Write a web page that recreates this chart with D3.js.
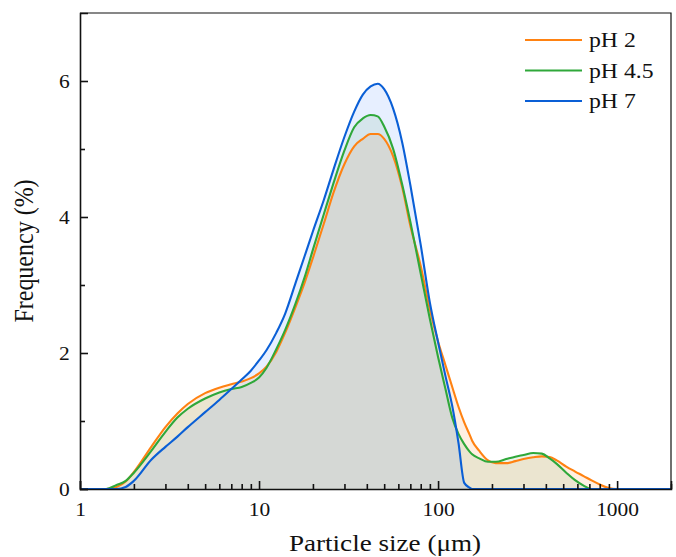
<!DOCTYPE html>
<html><head><meta charset="utf-8">
<script src="https://cdn.jsdelivr.net/npm/d3@7"></script>
<style>
body{margin:0;background:#fff}
text{font-family:"Liberation Serif","Times New Roman",serif;fill:#111}
</style>
</head><body>
<svg id="c" width="676" height="557"></svg>
<script>
// Particle size (µm)
const sizes = [1,1.4,1.6,1.8,2,2.5,3,3.5,4,5,6,7,8,9,10,11,12.5,14,16,18,20,23,26,30,34,38,42,46,50,56,63,70,80,90,100,110,120,130,140,150,155,170,190,210,240,270,300,340,380,420,460,520,580,650,720,800,900,1000,2000];
// Frequency (%)
const pH2  = [0,0,0.03,0.11,0.25,0.62,0.91,1.11,1.25,1.41,1.49,1.54,1.58,1.63,1.70,1.80,2.02,2.30,2.68,3.04,3.40,3.90,4.35,4.78,5.04,5.15,5.22,5.22,5.15,4.90,4.44,3.87,3.28,2.64,2.17,1.82,1.50,1.21,0.98,0.80,0.71,0.56,0.42,0.38,0.38,0.41,0.44,0.466,0.48,0.47,0.42,0.33,0.26,0.19,0.126,0.067,0.014,0,0];
const pH45 = [0,0,0.06,0.12,0.24,0.56,0.84,1.05,1.18,1.33,1.42,1.47,1.50,1.56,1.64,1.78,2.06,2.34,2.73,3.12,3.52,4.04,4.49,4.98,5.32,5.45,5.50,5.48,5.33,5.01,4.48,3.93,3.17,2.50,1.94,1.47,1.05,0.81,0.66,0.55,0.51,0.45,0.40,0.40,0.44,0.475,0.50,0.53,0.52,0.45,0.37,0.24,0.134,0.05,0,0,0,0,0];
const pH7  = [0,0,0,0.03,0.12,0.43,0.62,0.77,0.91,1.13,1.31,1.47,1.61,1.74,1.89,2.04,2.30,2.58,3.03,3.43,3.79,4.25,4.69,5.18,5.55,5.80,5.92,5.96,5.88,5.60,5.10,4.47,3.59,2.74,2.16,1.66,1.22,0.68,0.09,0.02,0,0,0,0,0,0,0,0,0,0,0,0,0,0,0,0,0,0,0];
const seriesNames = ["pH 2","pH 4.5","pH 7"];
const xTickLabels = [1,10,100,1000];
const yTickLabels = [0,2,4,6];

const lineColors = ["#ff8212","#2fa83a","#0a5fd6"];
const fillColors = ["rgba(255,150,60,0.15)","rgba(60,150,50,0.10)","rgba(60,120,255,0.12)"];

const svg = d3.select("#c");
const L=80, R=671, T=13, B=489;
const SX = 1.13; // horizontal text stretch of the original figure
const x = d3.scaleLog().domain([1,2000]).range([L,R]);
const y = d3.scaleLinear().domain([0,7]).range([B,T]);

const series = [pH2,pH45,pH7].map((v,i)=>({name:seriesNames[i], pts:sizes.map((s,j)=>({s, v:v[j]}))}));

const area = d3.area().x(d=>x(d.s)).y0(y(0)).y1(d=>y(d.v)).curve(d3.curveMonotoneX);
const line = d3.line().x(d=>x(d.s)).y(d=>y(d.v)).curve(d3.curveMonotoneX);

svg.append("g").selectAll("path").data(series).join("path")
  .attr("d",d=>area(d.pts)).attr("fill",(d,i)=>fillColors[i]).attr("stroke","none");
svg.append("g").selectAll("path").data(series).join("path")
  .attr("d",d=>line(d.pts)).attr("fill","none").attr("stroke",(d,i)=>lineColors[i])
  .attr("stroke-width",2.1).attr("stroke-linejoin","round");

// frame
svg.append("path").attr("d",`M${L},${T}H${R}V${B}`).attr("fill","none").attr("stroke","#111").attr("stroke-width",1.2);

// X axis
const minorX=[];
for(let d=1; d<=1000; d*=10) for(let k=2;k<=9;k++){ if(d*k<=2000) minorX.push(d*k); }
const gx = svg.append("g").attr("transform",`translate(0,${B})`);
gx.call(d3.axisBottom(x).tickValues(xTickLabels).tickSize(-8).tickPadding(14).tickFormat(d3.format("d")));
gx.append("g").call(d3.axisBottom(x).tickValues(minorX).tickSize(-5).tickFormat(""))
  .call(g=>g.select(".domain").remove());
gx.selectAll(".tick text").attr("font-size",19).attr("fill","#111").attr("transform",`scale(${SX},1)`);
gx.selectAll("line,path").attr("stroke","#111").attr("stroke-width",1.6);

// Y axis
const gy = svg.append("g").attr("transform",`translate(${L},0)`);
gy.call(d3.axisLeft(y).tickValues(yTickLabels).tickSize(-8).tickPadding(9).tickFormat(d3.format("d")));
gy.append("g").call(d3.axisLeft(y).tickValues([1,3,5]).tickSize(-5).tickFormat(""))
  .call(g=>g.select(".domain").remove());
gy.selectAll(".tick text").attr("font-size",19).attr("fill","#111").attr("transform",`scale(${SX},1)`);
gy.selectAll("line,path").attr("stroke","#111").attr("stroke-width",1.6);

// titles
svg.append("text").attr("transform",`translate(385,551) scale(${SX},1)`).attr("text-anchor","middle").attr("font-size",24).text("Particle size (μm)");
svg.append("text").attr("transform",`translate(33,${(T+B)/2}) rotate(-90) scale(1,${SX})`).attr("text-anchor","middle").attr("font-size",24).text("Frequency (%)");

// legend
const lg = svg.append("g");
seriesNames.forEach((n,i)=>{
  const yy = 40 + i*30.5;
  lg.append("line").attr("x1",525).attr("x2",582).attr("y1",yy).attr("y2",yy).attr("stroke",lineColors[i]).attr("stroke-width",2.2);
  lg.append("text").attr("transform",`translate(589,${yy+7}) scale(${SX},1)`).attr("font-size",21).text(n);
});
</script>
</body></html>
